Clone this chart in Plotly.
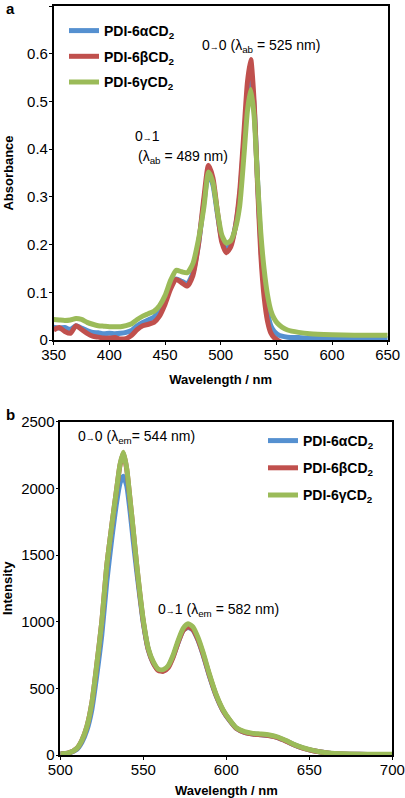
import plotly.graph_objects as go

W, H = 405, 798

# ---------------- Panel a: absorbance ----------------
wl_abs = [350, 355, 360, 365, 370, 375, 380, 385, 390, 395, 400, 405, 410, 415, 420, 425,
          430, 435, 440, 445, 450, 455, 460, 465, 470, 475, 480, 485, 489, 493, 497, 501,
          505, 509, 513, 517, 521, 524, 527, 530, 533, 536, 539, 542, 545, 548, 551, 555,
          560, 570, 580, 600, 620, 650]
abs_alpha = [0.027, 0.025, 0.026, 0.022, 0.030, 0.025, 0.020, 0.016, 0.015, 0.013, 0.014, 0.013,
             0.014, 0.016, 0.020, 0.030, 0.037, 0.042, 0.048, 0.062, 0.085, 0.112, 0.128, 0.123,
             0.118, 0.140, 0.200, 0.290, 0.348, 0.325, 0.265, 0.210, 0.190, 0.200, 0.235, 0.300,
             0.420, 0.510, 0.558, 0.490, 0.340, 0.200, 0.110, 0.060, 0.030, 0.018, 0.012, 0.008,
             0.006, 0.005, 0.004, 0.004, 0.003, 0.003]
abs_beta = [0.021, 0.026, 0.018, 0.014, 0.030, 0.022, 0.014, 0.008, 0.006, 0.004, 0.004, 0.005,
            0.002, 0.003, 0.010, 0.022, 0.030, 0.033, 0.037, 0.050, 0.075, 0.107, 0.127, 0.120,
            0.113, 0.135, 0.200, 0.300, 0.366, 0.340, 0.270, 0.205, 0.183, 0.195, 0.235, 0.310,
            0.440, 0.540, 0.588, 0.500, 0.330, 0.180, 0.090, 0.040, 0.015, 0.005, 0.000, -0.005,
            -0.005, -0.005, -0.005, -0.005, -0.005, -0.005]
abs_gamma = [0.043, 0.042, 0.041, 0.042, 0.045, 0.043, 0.037, 0.033, 0.030, 0.029, 0.028, 0.028,
             0.028, 0.030, 0.034, 0.043, 0.050, 0.055, 0.060, 0.072, 0.093, 0.125, 0.146, 0.143,
             0.141, 0.160, 0.210, 0.280, 0.352, 0.330, 0.270, 0.220, 0.203, 0.208, 0.232, 0.280,
             0.390, 0.480, 0.525, 0.470, 0.340, 0.225, 0.148, 0.095, 0.062, 0.045, 0.035, 0.027,
             0.021, 0.016, 0.013, 0.011, 0.010, 0.010]

# ---------------- Panel b: emission ----------------
wl_em = [500, 505, 510, 513, 516, 519, 522, 525, 528, 531, 534, 536, 538, 540, 542, 544, 546,
         548, 550, 553, 556, 559, 562, 565, 568, 571, 574, 577, 580, 583, 586, 590, 594, 598,
         602, 606, 611, 616, 621, 626, 631, 636, 641, 646, 651, 656, 662, 670, 680, 690, 700]
em_alpha = [8, 14, 42, 95, 185, 340, 600, 900, 1300, 1620, 1900, 2040, 2090, 2020, 1830, 1600,
            1380, 1180, 990, 790, 690, 640, 632, 662, 740, 845, 935, 958, 935, 860, 752, 585,
            440, 332, 258, 200, 170, 158, 152, 146, 131, 105, 76, 53, 36, 24, 14, 8, 5, 4, 4]
em_beta = [8, 15, 50, 110, 212, 390, 680, 1000, 1420, 1720, 2000, 2175, 2265, 2145, 1915, 1675,
           1425, 1200, 1000, 790, 690, 635, 627, 655, 735, 845, 935, 962, 940, 865, 757, 590,
           443, 334, 260, 200, 170, 157, 152, 145, 130, 104, 75, 52, 36, 24, 14, 8, 5, 4, 4]
em_gamma = [8, 15, 50, 110, 212, 390, 680, 1000, 1420, 1720, 2000, 2180, 2270, 2150, 1920, 1680,
            1430, 1210, 1010, 800, 700, 645, 640, 670, 750, 860, 950, 985, 960, 880, 770, 600,
            450, 340, 265, 205, 175, 162, 157, 150, 135, 108, 78, 55, 38, 25, 15, 9, 6, 5, 5]

names = ["PDI-6\u03b1CD<sub>2</sub>", "PDI-6\u03b2CD<sub>2</sub>", "PDI-6\u03b3CD<sub>2</sub>"]
colors = ["#5590D0", "#C0504D", "#9BBB59"]

abs_x_ticks = [350, 400, 450, 500, 550, 600, 650]
abs_y_ticks = [0, 0.1, 0.2, 0.3, 0.4, 0.5, 0.6, 0.7]
abs_y_labels = ["0", "0.1", "0.2", "0.3", "0.4", "0.5", "0.6", "0.7"]
em_x_ticks = [500, 550, 600, 650, 700]
em_y_ticks = [0, 500, 1000, 1500, 2000, 2500]

FONT = "Liberation Sans, Arial, sans-serif"
ARROW = '<span style="font-size:9px">\u2192</span>'


def px(x):
    return x / W


def py(y):
    return 1 - y / H


fig = go.Figure()

for name, col, ys, grp in zip(names, colors, [abs_alpha, abs_beta, abs_gamma], ["a1", "a2", "a3"]):
    fig.add_trace(go.Scatter(x=wl_abs, y=ys, mode="lines", name="<b>" + name + "</b>",
                             line=dict(color=col, width=5, shape="spline", smoothing=0.6),
                             xaxis="x", yaxis="y", legend="legend", legendgroup=grp))

for name, col, ys, grp in zip(names, colors, [em_alpha, em_beta, em_gamma], ["b1", "b2", "b3"]):
    fig.add_trace(go.Scatter(x=wl_em, y=ys, mode="lines", name="<b>" + name + "</b>",
                             line=dict(color=col, width=5, shape="spline", smoothing=0.6),
                             xaxis="x2", yaxis="y2", legend="legend2", legendgroup=grp))

axis_common = dict(showline=True, linecolor="black", mirror=True, showgrid=False, zeroline=False,
                   ticks="outside", ticklen=3, tickcolor="black", automargin=False,
                   tickfont=dict(family=FONT, size=15, color="black"))

xtitle = dict(text="<b>Wavelength / nm</b>", font=dict(size=13, family=FONT), standoff=13)

fig.update_layout(
    template="none",
    width=W, height=H,
    margin=dict(l=0, r=0, t=0, b=0, pad=0),
    paper_bgcolor="white", plot_bgcolor="white",
    font=dict(family=FONT, color="black"),
    xaxis=dict(domain=[px(53.7), px(387.7)], range=[350, 650], tickvals=abs_x_ticks,
               anchor="y", linewidth=2, ticklabelstandoff=-3, title=xtitle, **axis_common),
    yaxis=dict(domain=[py(340), py(6)], range=[0, 0.7], tickvals=abs_y_ticks, ticktext=abs_y_labels,
               anchor="x", linewidth=1.5, ticklabelstandoff=-2,
               title=dict(text="<b>Absorbance</b>", font=dict(size=13, family=FONT), standoff=11),
               **axis_common),
    xaxis2=dict(domain=[px(60.3), px(392.3)], range=[500, 700], tickvals=em_x_ticks,
                anchor="y2", linewidth=2, ticklabelstandoff=-3, title=xtitle, **axis_common),
    yaxis2=dict(domain=[py(755), py(421.7)], range=[0, 2500], tickvals=em_y_ticks,
                anchor="x2", linewidth=1.5, ticklabelstandoff=-2,
                title=dict(text="<b>Intensity</b>", font=dict(size=13, family=FONT), standoff=11),
                **axis_common),
    legend=dict(x=px(64), y=py(15), xanchor="left", yanchor="top", bgcolor="rgba(0,0,0,0)",
                font=dict(family=FONT, size=14, color="black"), tracegroupgap=4.5,
                itemwidth=30),
    legend2=dict(x=px(263), y=py(425), xanchor="left", yanchor="top", bgcolor="rgba(0,0,0,0)",
                 font=dict(family=FONT, size=14, color="black"), tracegroupgap=6,
                 itemwidth=30),
    showlegend=True,
)

ann_font = dict(family=FONT, size=14, color="black")
annotations = [
    dict(text="<b>a</b>", x=px(4), y=py(9), font=dict(family=FONT, size=15, color="black")),
    dict(text="<b>b</b>", x=px(4), y=py(414), font=dict(family=FONT, size=15, color="black")),
    dict(text="0" + ARROW + "0 (\u03bb<sub>ab</sub> = 525 nm)", x=px(200), y=py(46), font=ann_font),
    dict(text="0" + ARROW + "1", x=px(133), y=py(136), font=ann_font),
    dict(text="(\u03bb<sub>ab</sub> = 489 nm)", x=px(136), y=py(157), font=ann_font),
    dict(text="0" + ARROW + "0 (\u03bb<sub>em</sub>= 544 nm)", x=px(76), y=py(437), font=ann_font),
    dict(text="0" + ARROW + "1 (\u03bb<sub>em</sub> = 582 nm)", x=px(156), y=py(610), font=ann_font),
]
for a in annotations:
    fig.add_annotation(xref="paper", yref="paper", xanchor="left", yanchor="middle",
                       showarrow=False, **a)

fig.write_html("out.html", config={"displayModeBar": False},
               post_script="document.body.style.margin='0';")
